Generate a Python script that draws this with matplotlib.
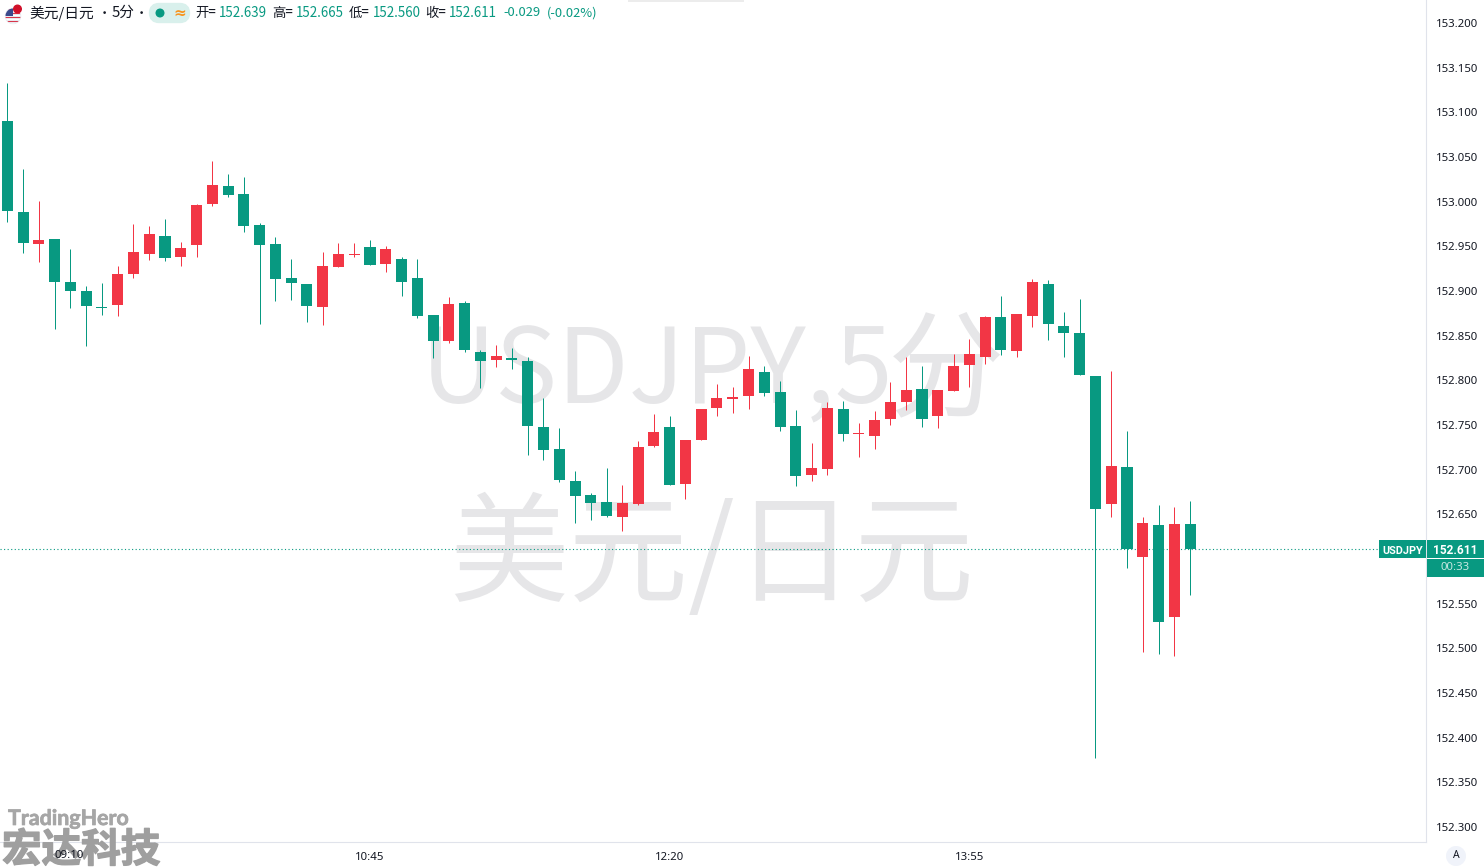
import matplotlib
matplotlib.use('Agg')
import matplotlib.pyplot as plt
import matplotlib.patheffects as pe
from matplotlib.patches import Circle, FancyBboxPatch, Rectangle

plt.rcParams['font.family'] = ['Noto Sans CJK SC', 'DejaVu Sans']

W, H = 1484, 868
GREEN = '#089981'
RED = '#f23645'
AXIS = '#e0e3eb'
MARK = '#e6e6e8'
DARK = '#131722'

# 5分钟K线
opens = [153.090, 152.988, 152.953, 152.958, 152.910, 152.900, 152.882, 152.884, 152.919, 152.941,
         152.962, 152.938, 152.951, 152.997, 153.018, 153.009, 152.974, 152.953, 152.915, 152.908,
         152.882, 152.927, 152.940, 152.949, 152.930, 152.936, 152.915, 152.873, 152.844, 152.887,
         152.832, 152.823, 152.825, 152.822, 152.748, 152.723, 152.687, 152.672, 152.664, 152.647,
         152.662, 152.727, 152.748, 152.684, 152.733, 152.769, 152.779, 152.782, 152.809, 152.787,
         152.749, 152.694, 152.701, 152.768, 152.740, 152.738, 152.757, 152.776, 152.790, 152.760,
         152.788, 152.817, 152.826, 152.871, 152.833, 152.872, 152.908, 152.861, 152.853, 152.805,
         152.662, 152.703, 152.602, 152.638, 152.535, 152.639]
highs = [153.133, 153.037, 153.001, 152.958, 152.947, 152.906, 152.909, 152.928, 152.975, 152.973,
         152.981, 152.955, 152.997, 153.046, 153.031, 153.028, 152.976, 152.960, 152.936, 152.908,
         152.944, 152.954, 152.954, 152.957, 152.950, 152.938, 152.936, 152.873, 152.893, 152.889,
         152.834, 152.840, 152.836, 152.826, 152.780, 152.747, 152.699, 152.674, 152.702, 152.683,
         152.732, 152.762, 152.760, 152.733, 152.768, 152.796, 152.793, 152.827, 152.816, 152.799,
         152.767, 152.730, 152.776, 152.777, 152.752, 152.766, 152.798, 152.826, 152.816, 152.789,
         152.829, 152.846, 152.872, 152.894, 152.874, 152.913, 152.912, 152.876, 152.891, 152.805,
         152.810, 152.743, 152.647, 152.660, 152.658, 152.665]
lows = [152.977, 152.943, 152.932, 152.857, 152.881, 152.838, 152.873, 152.872, 152.915, 152.935,
        152.934, 152.928, 152.938, 152.995, 153.005, 152.966, 152.863, 152.889, 152.890, 152.865,
        152.862, 152.927, 152.938, 152.929, 152.921, 152.894, 152.870, 152.825, 152.842, 152.832,
        152.791, 152.815, 152.813, 152.716, 152.711, 152.686, 152.640, 152.644, 152.647, 152.631,
        152.660, 152.725, 152.683, 152.667, 152.733, 152.760, 152.763, 152.768, 152.782, 152.743,
        152.682, 152.687, 152.694, 152.732, 152.714, 152.723, 152.750, 152.767, 152.748, 152.747,
        152.788, 152.793, 152.818, 152.828, 152.826, 152.860, 152.845, 152.826, 152.806, 152.377,
        152.647, 152.590, 152.496, 152.494, 152.491, 152.560]
closes = [152.990, 152.954, 152.957, 152.910, 152.900, 152.883, 152.881, 152.919, 152.944, 152.964,
          152.937, 152.948, 152.996, 153.019, 153.007, 152.973, 152.951, 152.913, 152.909, 152.883,
          152.928, 152.941, 152.941, 152.929, 152.947, 152.910, 152.872, 152.844, 152.885, 152.834,
          152.822, 152.827, 152.823, 152.749, 152.722, 152.688, 152.671, 152.663, 152.648, 152.663,
          152.725, 152.742, 152.683, 152.733, 152.768, 152.780, 152.781, 152.813, 152.786, 152.748,
          152.693, 152.702, 152.769, 152.740, 152.741, 152.756, 152.776, 152.789, 152.757, 152.789,
          152.816, 152.829, 152.871, 152.834, 152.874, 152.910, 152.863, 152.853, 152.806, 152.656,
          152.704, 152.611, 152.640, 152.530, 152.639, 152.611]

y_ticks = [152.30, 152.35, 152.40, 152.45, 152.50, 152.55, 152.65, 152.70, 152.75, 152.80,
           152.85, 152.90, 152.95, 153.00, 153.05, 153.10, 153.15, 153.20]
time_pos = [23, 42, 61]
time_labels = ['10:45', '12:20', '13:55']
first_time = '09:10'
header_labels = [(195.5, '开='), (272, '高='), (349, '低='), (425.5, '收=')]
header_values = [(219, '152.639'), (296, '152.665'), (373, '152.560'), (449, '152.611')]
header_change = [(503, '-0.029'), (547, '(-0.02%)')]

fig = plt.figure(figsize=(W / 100, H / 100), dpi=100, facecolor='white')


def px_axes(z):
    a = fig.add_axes([0, 0, 1, 1], zorder=z)
    a.set_xlim(0, W)
    a.set_ylim(H, 0)
    a.axis('off')
    return a


# 水印
bg = px_axes(0)
bg.text(421, 374, 'USDJPY,5', color=MARK, fontsize=75, ha='left', va='center')
bg.text(888, 375, '分', color=MARK, fontsize=84, ha='left', va='center')
bg.text(712, 559, '美元/日元', color=MARK, fontsize=86, ha='center', va='center')

# 主图
ax = fig.add_axes([0, 26 / H, 1426 / W, 842 / H], zorder=1, facecolor='none')
ax.set_xlim(-0.463, 89.96)
ax.set_ylim(152.2832, 153.2257)
for i in range(len(opens)):
    c = RED if closes[i] > opens[i] else GREEN
    w = ax.vlines(i, lows[i], highs[i], color=c, lw=0.72, zorder=2)
    w.set_snap(True)
    ax.bar(i, max(abs(closes[i] - opens[i]), 0.0012), bottom=min(opens[i], closes[i]),
           width=0.7, color=c, linewidth=0, zorder=3)
ax.axhline(closes[-1], color=GREEN, lw=0.8, dashes=(1, 2.2), zorder=1)

for s in ['top', 'left']:
    ax.spines[s].set_visible(False)
for s in ['right', 'bottom']:
    ax.spines[s].set_color(AXIS)
    ax.spines[s].set_linewidth(0.8)
ax.yaxis.tick_right()
ax.set_yticks(y_ticks)
ax.set_yticklabels(['%.3f' % v for v in y_ticks], family='Noto Sans', fontsize=8.2, color=DARK)
ax.set_xticks(time_pos)
ax.set_xticklabels(time_labels, family='Noto Sans', fontsize=8.2, color=DARK)
ax.tick_params(axis='y', length=0, pad=7)
ax.tick_params(axis='x', length=0, pad=7)

# 上层元素
ov = px_axes(2)

# 标题栏
flag = Circle((13, 16), 7.5, color='#e8e8ee', zorder=1)
ov.add_patch(flag)
for k, y0 in enumerate(range(9, 24, 2)):
    r = Rectangle((5, y0), 16, 1, color='#d8354a' if k % 2 == 0 else 'white', linewidth=0, zorder=2)
    r.set_clip_path(flag)
    ov.add_patch(r)
canton = Rectangle((5, 8), 8, 8, color='#3a4a8c', linewidth=0, zorder=3)
canton.set_clip_path(flag)
ov.add_patch(canton)
ov.add_patch(Circle((17.5, 9), 3.8, color='#d0102a', zorder=4))

ov.text(29, 13, '美元/日元', color=DARK, fontsize=10.6, va='center', ha='left')
ov.text(104, 13, '•', color=DARK, fontsize=9.5, va='center', ha='center')
ov.text(112, 13, '5分', color=DARK, fontsize=10.6, va='center', ha='left')
ov.text(141, 13, '•', color=DARK, fontsize=9.5, va='center', ha='center')
ov.add_patch(FancyBboxPatch((153, 7), 33, 12, boxstyle='round,pad=0,rounding_size=6', mutation_aspect=1,
                            facecolor='#d9f0ec', edgecolor='#d9f0ec', linewidth=6))
ov.add_patch(Circle((160, 13), 3.8, color=GREEN))
ov.text(180, 13, '≈', color='#f7941d', fontsize=11, fontweight='bold', ha='center', va='center',
        family=['DejaVu Sans'])
for x0, txt in header_labels:
    ov.text(x0, 13, txt, color=DARK, fontsize=9.6, va='center', ha='left')
for x0, txt in header_values:
    ov.text(x0, 13, txt, color=GREEN, fontsize=9.6, va='center', ha='left')
for x0, txt in header_change:
    ov.text(x0, 13, txt, color=GREEN, fontsize=9.3, va='center', ha='left')

# 顶部浮层阴影
ov.add_patch(Rectangle((628, 0), 116, 1.5, color='#ececec', linewidth=0))

# 最新价标签
ov.add_patch(Rectangle((1379, 540), 47, 18, color=GREEN, linewidth=0))
ov.add_patch(Rectangle((1427, 540), 57, 18, color=GREEN, linewidth=0))
ov.add_patch(Rectangle((1427, 558.5), 57, 18, color=GREEN, linewidth=0))
ov.text(1402.5, 550.5, 'USDJPY', color='white', fontsize=7.8, fontweight='bold', ha='center', va='center',
        family=['Roboto'])
ov.text(1455.5, 550.5, '%.3f' % closes[-1], color='white', fontsize=8.6, fontweight='bold', ha='center',
        va='center', family=['Roboto'])
ov.text(1455.5, 568, '00:33', color='#c8e8e2', fontsize=8.2, ha='center', va='center', family=['Noto Sans'])

# 右下角 A 按钮
ov.add_patch(Circle((1456, 856), 10, color='#f0f3fa', linewidth=0))
ov.text(1456, 856, 'A', color=DARK, fontsize=7.5, ha='center', va='center', family=['Noto Sans'])

# 左下角标识
ov.text(8, 819, 'TradingHero', color='#a6a6a6', fontsize=15.4, fontweight='bold', ha='left', va='center',
        family=['Lato'], path_effects=[pe.withStroke(linewidth=0.5, foreground='#a6a6a6')])
ov.text(2, 850.5, '宏达科技', color='#9f9f9f', fontsize=28.5, fontweight='bold', ha='left', va='center',
        path_effects=[pe.withStroke(linewidth=1.0, foreground='#9f9f9f')])
ov.text(69.5, 856, first_time, color=DARK, fontsize=8.2, ha='center', va='center', family=['Noto Sans'])

fig.savefig('out.png', dpi=100)
